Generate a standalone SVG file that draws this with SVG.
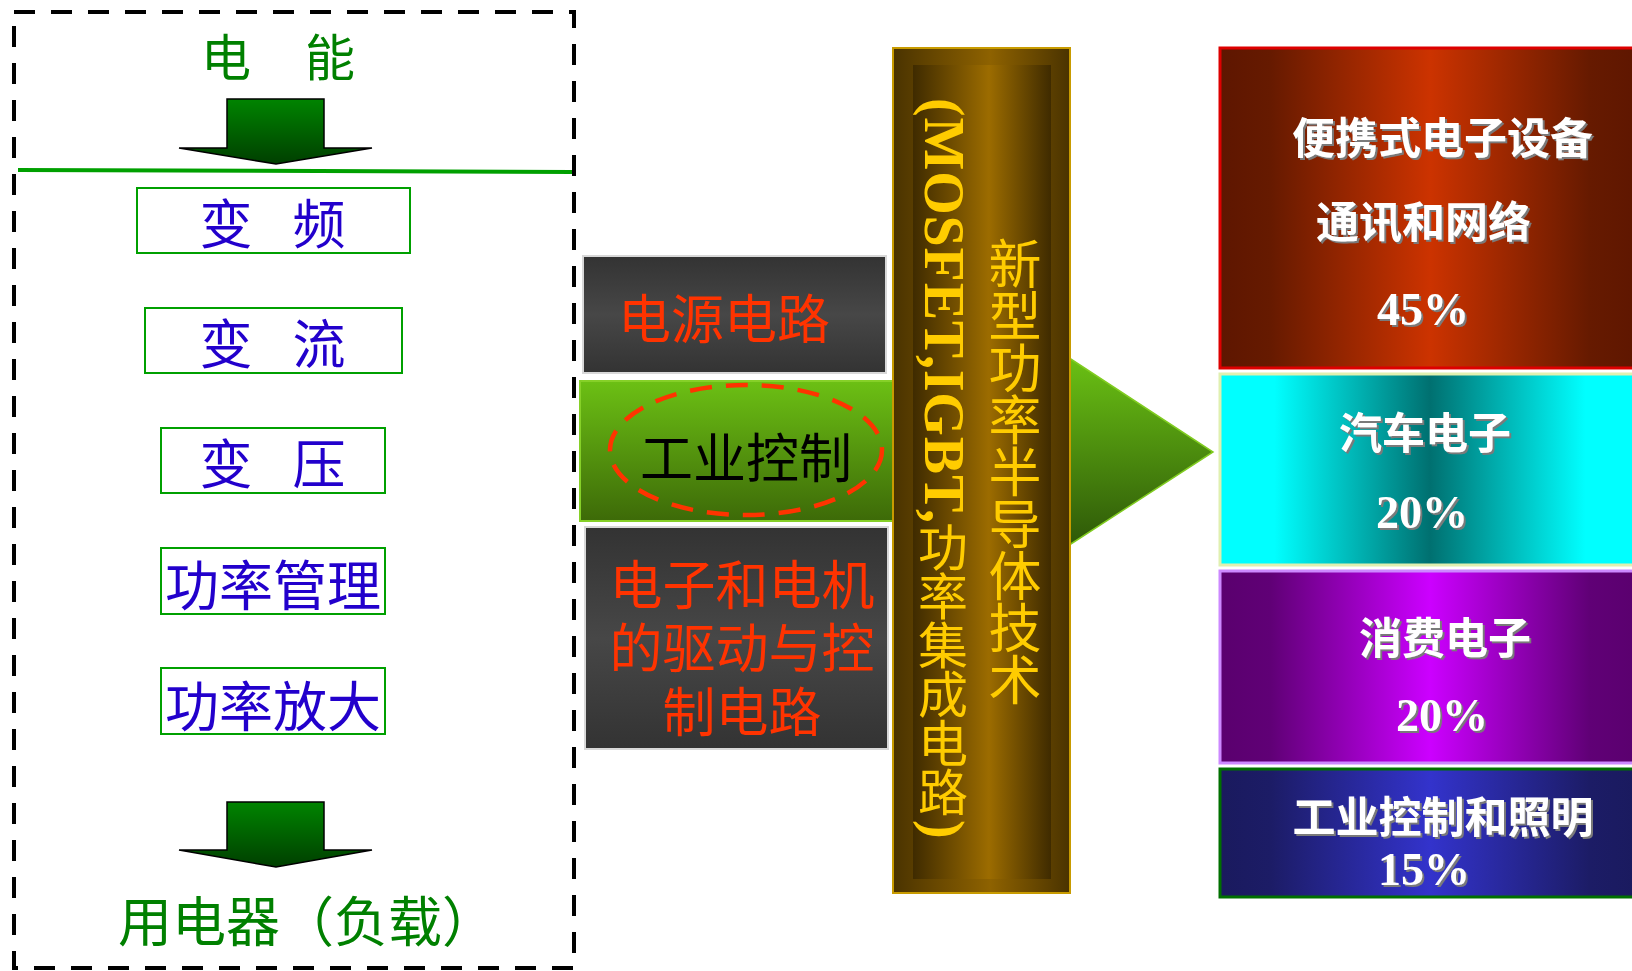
<svg xmlns="http://www.w3.org/2000/svg" width="1632" height="971" viewBox="0 0 1632 971">
<style>
.cjk{font-family:"Noto Sans CJK SC","Liberation Sans",sans-serif;}
.green{fill:#008000;}
.blue{fill:#2200cc;}
.lbox{fill:#ffffff;stroke:#00a000;stroke-width:2;}
.red{fill:#ff3300;}
.wt{font-family:"Liberation Serif","Noto Sans CJK SC",serif;font-weight:bold;fill:#ffffff;filter:url(#sh);}
.gold{fill:#ffcc00;}
</style>
<defs>
<linearGradient id="gArrow" x1="0" y1="0" x2="0" y2="1">
<stop offset="0" stop-color="#008400"/><stop offset="1" stop-color="#003f00"/>
</linearGradient>
<linearGradient id="gDark" x1="0" y1="0" x2="0" y2="1">
<stop offset="0" stop-color="#333333"/><stop offset="0.5" stop-color="#474747"/><stop offset="1" stop-color="#333333"/>
</linearGradient>
<linearGradient id="gGreen" x1="0" y1="0" x2="0" y2="1">
<stop offset="0" stop-color="#6cc014"/><stop offset="1" stop-color="#3d6a08"/>
</linearGradient>
<linearGradient id="gTri" x1="0" y1="0" x2="0" y2="1">
<stop offset="0" stop-color="#6cc414"/><stop offset="1" stop-color="#2c5508"/>
</linearGradient>
<linearGradient id="gBarO" x1="0" y1="0" x2="1" y2="0">
<stop offset="0" stop-color="#4a3300"/><stop offset="0.55" stop-color="#8e6200"/><stop offset="1" stop-color="#4a3300"/>
</linearGradient>
<linearGradient id="gBarI" x1="0" y1="0" x2="1" y2="0">
<stop offset="0" stop-color="#3f2b00"/><stop offset="0.55" stop-color="#9c6c00"/><stop offset="1" stop-color="#3f2b00"/>
</linearGradient>
<linearGradient id="gRed" x1="0" y1="0" x2="1" y2="0">
<stop offset="0" stop-color="#5e1600"/><stop offset="0.12" stop-color="#661a00"/><stop offset="0.5" stop-color="#cc3300"/><stop offset="0.88" stop-color="#661a00"/><stop offset="1" stop-color="#5e1600"/>
</linearGradient>
<linearGradient id="gCyan" x1="0" y1="0" x2="1" y2="0">
<stop offset="0" stop-color="#00ffff"/><stop offset="0.13" stop-color="#00ffff"/><stop offset="0.5" stop-color="#007070"/><stop offset="0.87" stop-color="#00ffff"/><stop offset="1" stop-color="#00ffff"/>
</linearGradient>
<linearGradient id="gPurple" x1="0" y1="0" x2="1" y2="0">
<stop offset="0" stop-color="#5a006e"/><stop offset="0.12" stop-color="#600076"/><stop offset="0.5" stop-color="#cc00ff"/><stop offset="0.88" stop-color="#600076"/><stop offset="1" stop-color="#5a006e"/>
</linearGradient>
<linearGradient id="gBlue" x1="0" y1="0" x2="1" y2="0">
<stop offset="0" stop-color="#1a1a5e"/><stop offset="0.12" stop-color="#1c1c66"/><stop offset="0.5" stop-color="#3333cc"/><stop offset="0.88" stop-color="#1c1c66"/><stop offset="1" stop-color="#1a1a5e"/>
</linearGradient>
<filter id="sh" x="-10%" y="-20%" width="130%" height="150%">
<feDropShadow dx="2" dy="2" stdDeviation="0.4" flood-color="#7a7a7a" flood-opacity="1"/>
</filter>
</defs>
<rect width="1632" height="971" fill="#ffffff"/>

<g id="frame">
<rect x="14" y="12" width="560" height="956" fill="none" stroke="#000000" stroke-width="4" stroke-dasharray="21 16"/>
<line x1="18" y1="170" x2="572" y2="172" stroke="#00a000" stroke-width="4"/>
</g>

<g id="source">
<text class="cjk green" x="226" y="76" font-size="50" text-anchor="middle">电</text>
<text class="cjk green" x="330" y="76" font-size="50" text-anchor="middle">能</text>
</g>

<g id="box-bianpin">
<rect class="lbox" x="137" y="188" width="273" height="65"/>
<text class="cjk blue" x="226" y="244" font-size="53" text-anchor="middle">变</text>
<text class="cjk blue" x="319" y="244" font-size="53" text-anchor="middle">频</text>
</g>
<g id="box-bianliu">
<rect class="lbox" x="145" y="308" width="257" height="65"/>
<text class="cjk blue" x="226" y="364" font-size="53" text-anchor="middle">变</text>
<text class="cjk blue" x="319" y="364" font-size="53" text-anchor="middle">流</text>
</g>
<g id="box-bianya">
<rect class="lbox" x="161" y="428" width="224" height="65"/>
<text class="cjk blue" x="226" y="484" font-size="53" text-anchor="middle">变</text>
<text class="cjk blue" x="319" y="484" font-size="53" text-anchor="middle">压</text>
</g>
<g id="box-glgl">
<rect class="lbox" x="161" y="548" width="224" height="66"/>
<text class="cjk blue" x="273" y="606" font-size="54" text-anchor="middle">功率管理</text>
</g>
<g id="box-glfd">
<rect class="lbox" x="161" y="668" width="224" height="66"/>
<text class="cjk blue" x="273" y="727" font-size="54" text-anchor="middle">功率放大</text>
</g>

<g id="load">
<text class="cjk green" x="118" y="942" font-size="54">用电器（负载）</text>
</g>

<g id="connectors">
<polygon points="227,99 324,99 324,148 372,148 276,164 179,148 227,148" fill="url(#gArrow)" stroke="#000000" stroke-width="1.5" stroke-linejoin="miter"/>
<polygon points="227,802 324,802 324,850 372,850 276,867 179,850 227,850" fill="url(#gArrow)" stroke="#000000" stroke-width="1.5"/>
<polygon points="1060,352 1213,452 1060,551" fill="url(#gTri)" stroke="#80cc20" stroke-width="1.5"/>
</g>

<g id="node-power">
<rect x="583" y="256" width="303" height="117" fill="url(#gDark)" stroke="#d8d8d8" stroke-width="2"/>
<text class="cjk red" x="724" y="339" font-size="53" text-anchor="middle">电源电路</text>
</g>
<g id="node-industrial">
<rect x="580" y="381" width="313" height="140" fill="url(#gGreen)" stroke="#86d028" stroke-width="2"/>
<ellipse cx="746" cy="450" rx="136" ry="65" fill="none" stroke="#ff3300" stroke-width="4.5" stroke-dasharray="22 14"/>
<text class="cjk" x="746" y="478" font-size="53" text-anchor="middle" fill="#000000">工业控制</text>
</g>
<g id="node-motor">
<rect x="585" y="527" width="303" height="222" fill="url(#gDark)" stroke="#d8d8d8" stroke-width="2"/>
<text class="cjk red" x="742" y="605" font-size="53" text-anchor="middle">电子和电机</text>
<text class="cjk red" x="742" y="668" font-size="53" text-anchor="middle">的驱动与控</text>
<text class="cjk red" x="742" y="732" font-size="53" text-anchor="middle">制电路</text>
</g>

<g id="node-tech">
<rect x="893" y="48" width="177" height="845" fill="url(#gBarO)" stroke="#c89b00" stroke-width="2"/>
<rect x="913" y="65" width="138" height="814" fill="url(#gBarI)"/>
<text transform="translate(943,98) rotate(90)" x="0" y="18" font-family="Liberation Serif" font-weight="bold" font-size="56" textLength="425" lengthAdjust="spacing" class="gold">(MOSFET,IGBT,</text>
<text class="cjk gold" font-size="50" text-anchor="middle" x="943 943 943 943 943 943" y="566 615 664 713 762 811">功率集成电路</text>
<text transform="translate(943,820) rotate(90)" x="0" y="18" font-family="Liberation Serif" font-weight="bold" font-size="56" class="gold">)</text>
<text class="cjk gold" font-size="53" text-anchor="middle" x="1015 1015 1015 1015 1015 1015 1015 1015 1015" y="284 336 388 440 492 544 596 648 700">新型功率半导体技术</text>
</g>

<g id="node-portable">
<rect x="1220" y="48" width="420" height="320" fill="url(#gRed)" stroke="#dd0000" stroke-width="3"/>
<text class="wt" x="1292" y="154" font-size="43">便携式电子设备</text>
<text class="wt" x="1316" y="238" font-size="43">通讯和网络</text>
<text class="wt" x="1423" y="325" font-size="46" text-anchor="middle">45%</text>
</g>
<g id="node-auto">
<rect x="1220" y="374" width="420" height="191" fill="url(#gCyan)" stroke="#e0f0b0" stroke-width="3"/>
<text class="wt" x="1425" y="449" font-size="43" text-anchor="middle">汽车电子</text>
<text class="wt" x="1422" y="528" font-size="46" text-anchor="middle">20%</text>
</g>
<g id="node-consumer">
<rect x="1220" y="571" width="420" height="192" fill="url(#gPurple)" stroke="#cc88ff" stroke-width="3"/>
<text class="wt" x="1445" y="654" font-size="43" text-anchor="middle">消费电子</text>
<text class="wt" x="1442" y="731" font-size="46" text-anchor="middle">20%</text>
</g>
<g id="node-industry-light">
<rect x="1220" y="769" width="420" height="128" fill="url(#gBlue)" stroke="#007000" stroke-width="3"/>
<text class="wt" x="1443" y="833" font-size="43" text-anchor="middle">工业控制和照明</text>
<text class="wt" x="1424" y="885" font-size="46" text-anchor="middle">15%</text>
</g>
</svg>
